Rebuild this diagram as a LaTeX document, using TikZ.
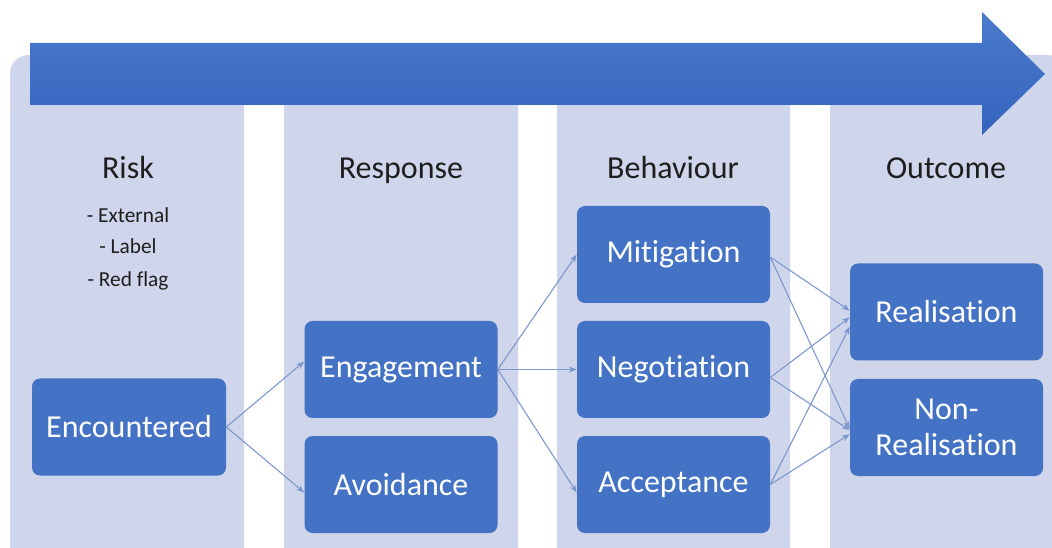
\documentclass[tikz,border=0pt]{standalone}
\usepackage{fontspec}
\setmainfont{Carlito}[Ligatures={NoCommon,NoRequired,NoContextual}]
\usetikzlibrary{arrows.meta}
\definecolor{colbg}{HTML}{CFD5EA}
\definecolor{boxblue}{HTML}{4472C4}
\definecolor{arrtop}{HTML}{4B7BCB}
\definecolor{arrbot}{HTML}{3463BE}
\definecolor{linkc}{HTML}{7C97CC}
\definecolor{headc}{HTML}{1E1E1E}
\tikzset{
  column/.style={fill=colbg, draw=none, rounded corners=14pt},
  box/.style={fill=boxblue, draw=none, rounded corners=6pt, text=white,
    minimum width=144.75pt, minimum height=72.75pt, inner sep=0pt,
    font=\fontsize{24}{27}\selectfont, align=center},
  head/.style={text=headc, font=\fontsize{24}{26}\selectfont, inner sep=0pt,
    text height=0.7em, text depth=0.2em},
  bullet/.style={text=headc, font=\fontsize{16}{18}\selectfont, inner sep=0pt,
    text height=0.7em, text depth=0.2em},
  link/.style={draw=linkc, line width=0.8pt, -{Stealth[length=6pt,width=4.5pt]}}
}
\begin{document}
\begin{tikzpicture}[x=0.75pt,y=-0.75pt]
\useasboundingbox (0,0) rectangle (1052,548);
\clip (0,0) rectangle (1052,548);
\fill[white] (0,0) rectangle (1052,548);
% columns
\fill[column] (10,55) rectangle (244,570);
\fill[column] (284,55) rectangle (518,570);
\fill[column] (557,55) rectangle (790,570);
\fill[column] (830,55) rectangle (1066,570);
% big arrow
\shade[top color=arrtop, bottom color=arrbot]
  (30,43) -- (982,43) -- (982,12) -- (1045,74) -- (982,135) -- (982,105) -- (30,105) -- cycle;
% headings
\node[head] (hrisk) at (128,175) {Risk};
\node[head] (hresp) at (401,175) {Response};
\node[head] (hbeh) at (673,175) {Behaviour};
\node[head] (hout) at (946,175) {Outcome};
\node[bullet] (b1) at (128,219) {- External};
\node[bullet] (b2) at (128,250) {- Label};
\node[bullet] (b3) at (128,283) {- Red flag};
% boxes
\node[box, minimum width=145.5pt] (enc) at (129,427) {Encountered};
\node[box] (eng) at (401,369.5) {Engagement};
\node[box] (avo) at (401,484.5) {Avoidance};
\node[box] (mit) at (673.5,254.5) {Mitigation};
\node[box] (neg) at (673.5,369.5) {Negotiation};
\node[box] (acc) at (673.5,484.5) {Acceptance};
\node[box] (rea) at (946.5,312) {Realisation};
\node[box] (non) at (946.5,427.5) {Non-\\Realisation};
% connectors
\draw[link] (enc.east) -- ([yshift=6pt]eng.west);
\draw[link] (enc.east) -- ([yshift=-6pt]avo.west);
\draw[link] (eng.east) -- (mit.west);
\draw[link] (eng.east) -- (neg.west);
\draw[link] (eng.east) -- ([yshift=-6pt]acc.west);
\draw[link] ([yshift=-2pt]mit.east) -- ([yshift=1pt]rea.west);
\draw[link] ([yshift=-2pt]mit.east) -- ([yshift=-1pt]non.west);
\draw[link] ([yshift=-6pt]neg.east) -- ([yshift=-4pt]rea.west);
\draw[link] ([yshift=-6pt]neg.east) -- ([yshift=-2pt]non.west);
\draw[link] (acc.east) -- ([yshift=-11pt]rea.west);
\draw[link] (acc.east) -- ([yshift=-5pt]non.west);
\end{tikzpicture}
\end{document}
